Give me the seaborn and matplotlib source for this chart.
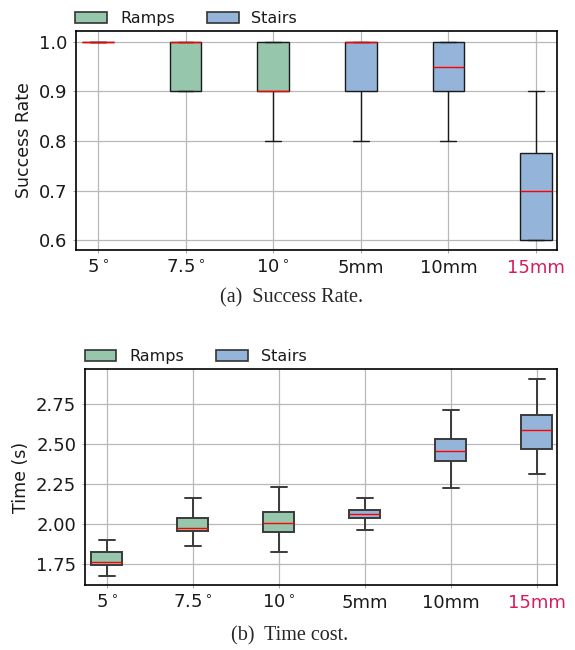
import pandas as pd
import matplotlib
matplotlib.use("Agg")
import matplotlib.pyplot as plt
from matplotlib.patches import Patch
import seaborn as sns

# ---- data ----
terrains = ['5$^\\circ$', '7.5$^\\circ$', '10$^\\circ$', '5mm', '10mm', '15mm']
terrain_type = ['Ramps', 'Ramps', 'Ramps', 'Stairs', 'Stairs', 'Stairs']

# success rate per run (10 runs each)
success_5deg = [1.0, 1.0, 1.0, 1.0, 1.0, 1.0, 1.0, 1.0, 1.0, 1.0]
success_75deg = [0.9, 0.9, 0.9, 0.9, 1.0, 1.0, 1.0, 1.0, 1.0, 1.0]
success_10deg = [0.8, 0.9, 0.9, 0.9, 0.9, 0.9, 1.0, 1.0, 1.0, 1.0]
success_5mm = [0.8, 0.9, 0.9, 0.9, 1.0, 1.0, 1.0, 1.0, 1.0, 1.0]
success_10mm = [0.8, 0.9, 0.9, 0.9, 0.9, 1.0, 1.0, 1.0, 1.0, 1.0]
success_15mm = [0.6, 0.6, 0.6, 0.6, 0.7, 0.7, 0.7, 0.8, 0.9, 0.9]

# time cost (s) per run
time_5deg = [1.680, 1.746, 1.763, 1.829, 1.902]
time_75deg = [1.865, 1.958, 1.979, 2.042, 2.163]
time_10deg = [1.827, 1.952, 2.010, 2.079, 2.233]
time_5mm = [1.963, 2.037, 2.063, 2.090, 2.163]
time_10mm = [2.227, 2.396, 2.460, 2.531, 2.713]
time_15mm = [2.313, 2.471, 2.590, 2.685, 2.906]

success_all = [success_5deg, success_75deg, success_10deg,
               success_5mm, success_10mm, success_15mm]
time_all = [time_5deg, time_75deg, time_10deg, time_5mm, time_10mm, time_15mm]


def to_long(values_list, col):
    rows = []
    for name, kind, vals in zip(terrains, terrain_type, values_list):
        for v in vals:
            rows.append({'Terrain': name, 'Type': kind, col: v})
    return pd.DataFrame(rows)


df_success = to_long(success_all, 'Success')
df_time = to_long(time_all, 'Time')

palette = {'Ramps': '#96c6ac', 'Stairs': '#94b5d9'}
highlight = '#d81b5c'

sns.set_theme(style="whitegrid")
plt.rcParams['font.family'] = ['DejaVu Sans']

fig = plt.figure(figsize=(5.75, 6.5), dpi=100)
ax1 = fig.add_axes([0.1322, 0.6154, 0.8365, 0.3369])
ax2 = fig.add_axes([0.1483, 0.1000, 0.8212, 0.3318])


def draw(ax, df, col, ylabel, lw, edge):
    sns.boxplot(data=df, x='Terrain', y=col, hue='Type', order=terrains,
                hue_order=['Ramps', 'Stairs'], palette=palette, dodge=False,
                width=0.36, whis=(0, 100), showfliers=False, linewidth=lw,
                linecolor=edge, saturation=1, legend=False, ax=ax,
                medianprops={'color': 'red', 'linewidth': 1.0})
    ax.set_xlim(-0.25, 5.24)
    ax.set_xlabel('')
    ax.set_ylabel(ylabel, fontsize=12.5, color='#1a1a1a')
    ax.grid(True, color='#b8b8b8', linewidth=0.9)
    ax.set_axisbelow(True)
    for s in ax.spines.values():
        s.set_color('black')
        s.set_linewidth(1.2)
    ax.tick_params(axis='both', labelsize=13, length=2, width=0.6,
                   color='#999999', pad=4.5, left=True, bottom=True,
                   labelcolor='#1a1a1a')
    ax.get_xticklabels()[-1].set_color(highlight)
    handles = [Patch(facecolor=palette[k], edgecolor='#333333', linewidth=1.2,
                     label=k) for k in ['Ramps', 'Stairs']]
    ax.legend(handles=handles, loc='lower left', bbox_to_anchor=(-0.005, 1.015),
              ncol=2, frameon=False, fontsize=11.5, borderaxespad=0,
              borderpad=0.1, handlelength=2.0, handleheight=0.7,
              columnspacing=2.0, handletextpad=0.8, labelcolor='#1a1a1a')


draw(ax1, df_success, 'Success', 'Success Rate', 1.0, '#1a1a1a')
ax1.set_ylim(0.58, 1.022)
ax1.set_yticks([0.6, 0.7, 0.8, 0.9, 1.0])

draw(ax2, df_time, 'Time', 'Time (s)', 1.4, '#3a3a3a')
ax2.set_ylim(1.621, 2.969)
ax2.set_yticks([1.75, 2.00, 2.25, 2.50, 2.75])
ax2.set_yticklabels(['1.75', '2.00', '2.25', '2.50', '2.75'])
ax2.get_xticklabels()[-1].set_color(highlight)

fig.text(0.507, 1 - 298 / 650, '(a)  Success Rate.', ha='center', va='center',
         fontsize=14.5, family='Liberation Serif')
fig.text(0.504, 1 - 636 / 650, '(b)  Time cost.', ha='center', va='center',
         fontsize=14.5, family='Liberation Serif')

fig.savefig('out.png', dpi=100)
